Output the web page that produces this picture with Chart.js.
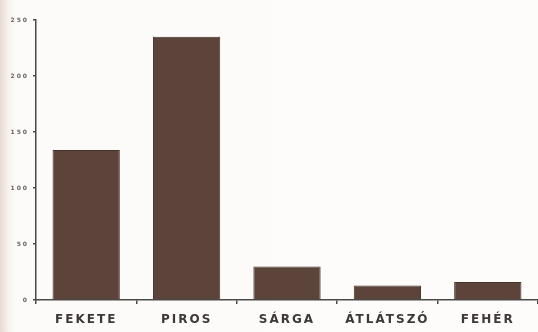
<!DOCTYPE html>
<html>
<head>
<meta charset="utf-8">
<script src="https://cdn.jsdelivr.net/npm/chart.js@4/dist/chart.umd.min.js"></script>
<style>
  html, body { margin: 0; padding: 0; }
  body {
    width: 538px; height: 332px; overflow: hidden;
    background: linear-gradient(to right, #e6d9d2 0px, #f6f1ee 8px, #fcfbf9 16px, #fdfcfa 100%);
  }
  #bar-chart { display: block; }
</style>
</head>
<body>
<canvas id="bar-chart" width="538" height="332"></canvas>
<script>
// --- colour categories and counts --- //
const colourLabels = ["FEKETE", "PIROS", "SÁRGA", "ÁTLÁTSZÓ", "FEHÉR"];
const colourCounts = [134, 235, 30, 13, 16];
const yTicks = [0, 50, 100, 150, 200, 250];

const barCanvas = document.getElementById("bar-chart");

// wide lettering for the category labels, tighter for the value axis
// (the y scale sits on z:1 so it is drawn after the bars)
const spacedText = {
    id: 'spacedText',
    beforeDraw: chart => { chart.ctx.letterSpacing = '2px'; },
    afterDatasetsDraw: chart => { chart.ctx.letterSpacing = '1px'; }
};

const barData = {
    labels: colourLabels,
    datasets: [{
        data: colourCounts,
        backgroundColor: '#5d443b',
        borderColor: '#47322b',
        borderWidth: 1,
        barPercentage: 0.67,
        categoryPercentage: 1
    }]
};

const barOptions = {
    responsive: false,
    maintainAspectRatio: false,
    devicePixelRatio: 1,
    animation: false,
    layout: {
        padding: { top: 20, right: 0, bottom: 0, left: 0 }
    },
    scales: {
        x: {
            offset: true,
            border: { display: true, color: '#4a4a4a', width: 1.5 },
            grid: {
                offset: true,
                drawOnChartArea: false,
                drawTicks: true,
                tickLength: 4,
                color: '#4a4a4a',
                lineWidth: 1.5
            },
            ticks: {
                color: '#3f3838',
                padding: 9,
                font: { family: 'DejaVu Sans', size: 12, weight: 'bold' }
            },
            afterFit: scale => { scale.height = 32; }
        },
        y: {
            z: 1,
            min: 0,
            max: 250,
            afterBuildTicks: scale => {
                scale.ticks = yTicks.map(v => ({ value: v }));
            },
            border: { display: true, color: '#4a4a4a', width: 1.5 },
            grid: {
                drawOnChartArea: false,
                drawTicks: true,
                tickLength: 3,
                color: '#4a4a4a',
                lineWidth: 1.5
            },
            ticks: {
                color: '#6a6262',
                padding: 4,
                font: { family: 'DejaVu Sans', size: 6, weight: 'bold' }
            },
            afterFit: scale => { scale.width = 36; }
        }
    },
    plugins: {
        legend: { display: false },
        tooltip: { enabled: false }
    }
};

let barChart = new Chart(barCanvas, {
    type: 'bar',
    data: barData,
    options: barOptions,
    plugins: [spacedText]
});
</script>
</body>
</html>
